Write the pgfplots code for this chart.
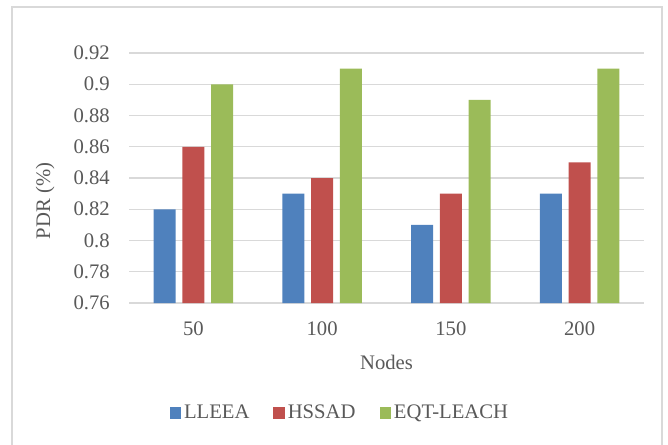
\documentclass[border=0pt]{standalone}
\usepackage{pgfplots}
\pgfplotsset{compat=1.18}
\usepackage{fontspec}
\setmainfont{Liberation Serif}
\definecolor{txt}{HTML}{595959}
\definecolor{gridc}{HTML}{D9D9D9}
\definecolor{cA}{HTML}{4F81BD}
\definecolor{cB}{HTML}{C0504D}
\definecolor{cC}{HTML}{9BBB59}
\begin{document}
\begin{tikzpicture}
\path[use as bounding box] (0,0) rectangle (501pt,333pt);
\draw[color=gridc, line width=1.1pt] (9pt,-2pt) -- (9pt,327.75pt) -- (496.5pt,327.75pt) -- (496.5pt,-2pt);
\begin{axis}[
  at={(96.75pt,105.75pt)}, anchor=south west,
  scale only axis, width=386.25pt, height=187.5pt,
  ybar=5pt, bar width=16.5pt,
  xmin=-0.5, xmax=3.5, ymin=0.76, ymax=0.92,
  xtick={0,1,2,3}, xticklabels={50,100,150,200},
  ytick={0.76,0.78,0.80,0.82,0.84,0.86,0.88,0.90,0.92},
  yticklabels={0.76,0.78,0.8,0.82,0.84,0.86,0.88,0.9,0.92},
  ymajorgrids, grid style={color=gridc, line width=0.9pt},
  axis line style={draw=none}, major tick length=0pt, tick style={draw=none},
  font=\fontsize{15.5}{18}\selectfont,
  every tick label/.append style={text=txt},
  xticklabel style={anchor=center, yshift=-19.5pt},
  yticklabel style={anchor=east, inner sep=0pt, xshift=-14.25pt},
  xlabel={Nodes}, ylabel={PDR (\%)},
  xlabel style={at={(axis description cs:0.5,-0.236)}, anchor=center, text=txt},
  ylabel style={at={(axis description cs:-0.163,0.408)}, anchor=center, text=txt},
  legend style={at={(axis description cs:0.41,-0.44)}, anchor=center, draw=none,
    legend columns=-1, text=txt, font=\fontsize{15.5}{18}\selectfont,
    /tikz/every even column/.append style={column sep=16pt},
    nodes={inner sep=2pt}},
]
\addplot[fill=cA, draw=none, legend image code/.code={\fill[cA] (0pt,-4.3pt) rectangle (8.8pt,4.3pt);}] coordinates {(0,0.82) (1,0.83) (2,0.81) (3,0.83)};
\addplot[fill=cB, draw=none, legend image code/.code={\fill[cB] (0pt,-4.3pt) rectangle (8.8pt,4.3pt);}] coordinates {(0,0.86) (1,0.84) (2,0.83) (3,0.85)};
\addplot[fill=cC, draw=none, legend image code/.code={\fill[cC] (0pt,-4.3pt) rectangle (8.8pt,4.3pt);}] coordinates {(0,0.90) (1,0.91) (2,0.89) (3,0.91)};
\legend{LLEEA,HSSAD,EQT-LEACH}
\end{axis}
\end{tikzpicture}
\end{document}
